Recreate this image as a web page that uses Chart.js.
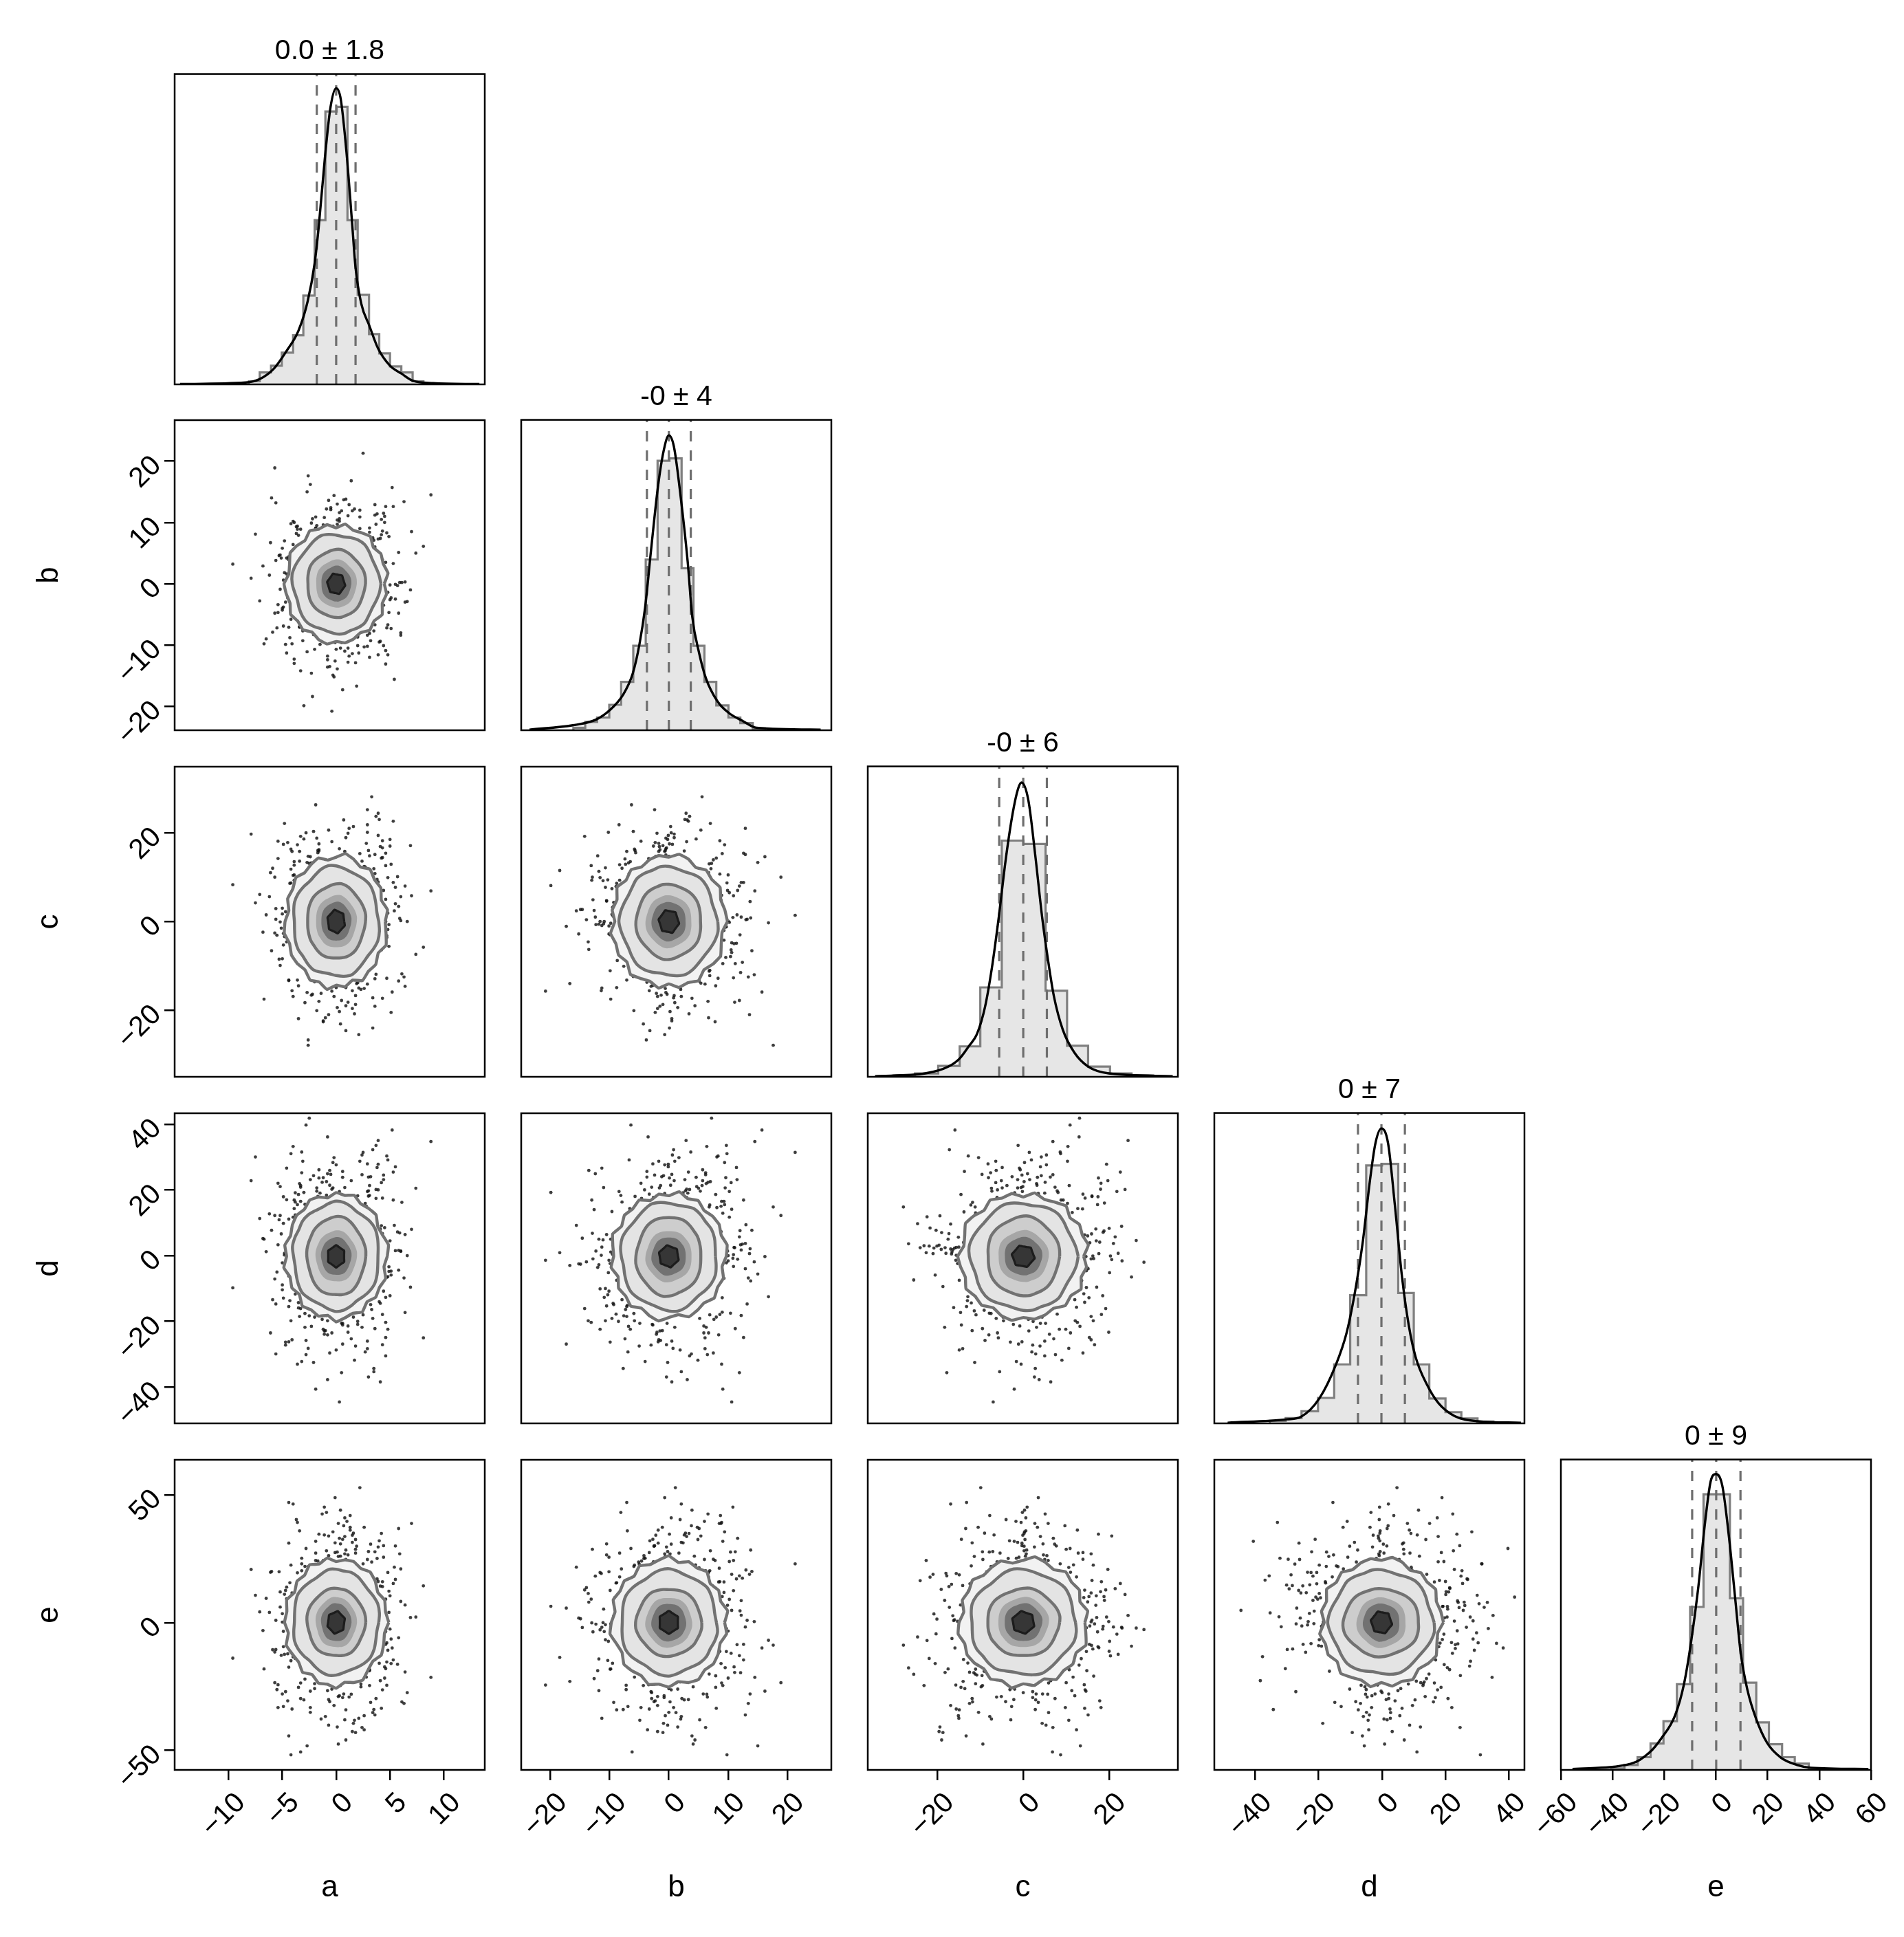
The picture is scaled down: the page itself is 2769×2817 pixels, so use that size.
<!DOCTYPE html>
<html>
<head>
<meta charset="utf-8">
<title>Corner plot</title>
<script src="https://cdn.jsdelivr.net/npm/chart.js@4.4.1/dist/chart.umd.min.js"></script>
<style>
html,body{margin:0;padding:0;background:#ffffff;overflow:hidden;}
#fig{position:relative;width:2769px;height:2817px;background:#ffffff;}
#fig canvas{position:absolute;}
</style>
</head>
<body>
<div id="fig"></div>
<script>
// ---------------- data ----------------
const varNames = ['a', 'b', 'c', 'd', 'e'];
const diagTitles = ['0.0 ± 1.8', '-0 ± 4', '-0 ± 6', '0 ± 7', '0 ± 9'];

// axis limits (column = x variable, row = y variable)
const rangeColA = [-15.0, 13.8];
const rangeColB = [-24.9, 27.4];
const rangeColC = [-36.2, 36.0];
const rangeColD = [-52.9, 44.9];
const rangeColE = [-60, 60];
const rangeRowB = [-23.9, 26.7];
const rangeRowC = [-35.0, 34.9];
const rangeRowD = [-51.0, 43.3];
const rangeRowE = [-57.6, 63.7];

// tick labels
const ticksA = [-10, -5, 0, 5, 10];
const ticksB = [-20, -10, 0, 10, 20];
const ticksC = [-20, 0, 20];
const ticksD = [-40, -20, 0, 20, 40];
const ticksE = [-60, -40, -20, 0, 20, 40, 60];
const ticksRowE = [-50, 0, 50];

// marginal histograms: bin edges and bar heights (fraction of panel height)
const binEdgesA = [-8.1,-7.1,-6.05,-5.05,-4.0,-3.05,-2.0,-1.0,0.05,1.05,2.0,3.05,4.0,5.0,6.05,7.1,8.1];
const histA = [0.01,0.0385,0.06,0.102,0.158,0.286,0.529,0.879,0.894,0.529,0.289,0.162,0.10,0.058,0.0385,0.01];
const binEdgesB = [-16.1,-14.1,-12.1,-10.05,-8.05,-6.0,-3.9,-1.9,0.1,2.15,4.15,6.0,8.0,10.05,12.05,14.15,16.2];
const histB = [0.008,0.027,0.041,0.082,0.156,0.272,0.55,0.868,0.876,0.522,0.272,0.156,0.08,0.041,0.023,0.006];
const binEdgesC = [-30.2,-25.2,-19.8,-14.8,-10.0,-5.0,0.05,5.2,10.2,15.1,20.2,25.2,30.2];
const histC = [0.004,0.011,0.035,0.098,0.288,0.761,0.75,0.277,0.10,0.033,0.011,0.004];
const binEdgesD = [-35.4,-30.4,-25.4,-20.2,-15.1,-10.05,-5.0,0.0,5.1,10.0,14.9,20.0,25.0,30.1,35.1];
const histD = [0.008,0.017,0.039,0.082,0.19,0.413,0.831,0.836,0.42,0.19,0.08,0.036,0.016,0.006];
const binEdgesE = [-40.5,-35.4,-30.3,-25.3,-20.3,-15.1,-10.0,-4.8,0.3,5.4,10.5,15.6,20.5,25.6,30.5,35.9,41.0];
const histE = [0.005,0.016,0.041,0.085,0.157,0.276,0.525,0.888,0.888,0.553,0.281,0.153,0.083,0.041,0.02,0.005];

// smooth density curves
const kdeXA = [-14.5,-8.4,-7.1,-5.8,-4.6,-3.5,-2.65,-2.0,-1.6,-1.06,-0.53,0.0,0.42,0.96,1.49,1.8,2.33,3.07,3.9,5.0,6.05,7.1,9.0,13.3];
const kdeYA = [0.001,0.006,0.017,0.05,0.108,0.173,0.267,0.39,0.515,0.725,0.892,0.954,0.92,0.747,0.515,0.376,0.26,0.19,0.115,0.06,0.035,0.012,0.004,0.001];
const kdeXB = [-23.5,-16.2,-12.3,-10.0,-7.7,-6.1,-4.95,-4.0,-3.0,-1.86,-0.89,0.0,0.85,2.0,3.17,3.94,5.1,6.26,8.2,10.1,12.45,14.8,25.6];
const kdeYB = [0.002,0.016,0.034,0.064,0.115,0.182,0.278,0.396,0.581,0.781,0.899,0.95,0.914,0.751,0.544,0.367,0.249,0.167,0.093,0.056,0.03,0.008,0.002];
const kdeXC = [-34.5,-22.8,-17.4,-14.8,-12.6,-10.8,-8.9,-7.3,-5.7,-4.1,-2.5,-1.2,-0.4,1.2,2.8,4.4,5.8,7.1,9.2,11.9,15.1,19.9,34.8];
const kdeYC = [0.002,0.011,0.033,0.059,0.1,0.137,0.225,0.351,0.514,0.698,0.846,0.928,0.948,0.89,0.713,0.514,0.373,0.262,0.152,0.078,0.033,0.011,0.002];
const kdeXD = [-48.7,-29.9,-25.6,-19.8,-14.75,-11.1,-8.2,-6.1,-3.9,-2.1,-0.2,1.9,4.05,6.2,8.4,10.6,14.2,17.8,22.8,30.1,43.8];
const kdeYD = [0.002,0.013,0.021,0.08,0.184,0.295,0.443,0.583,0.776,0.902,0.95,0.902,0.702,0.48,0.317,0.213,0.124,0.065,0.024,0.007,0.002];
const kdeXE = [-55.5,-32.8,-25.6,-21.2,-15.8,-12.3,-9.6,-6.9,-4.2,-2.0,0.0,2.45,5.1,7.35,9.6,12.2,15.4,19.8,25.2,31.4,36.8,59.0];
const kdeYE = [0.003,0.02,0.057,0.101,0.176,0.279,0.413,0.583,0.798,0.931,0.953,0.916,0.746,0.561,0.376,0.257,0.168,0.087,0.039,0.016,0.007,0.003];

// quantile markers (16%, 50%, 84%)
const quantA = [-1.8, 0.0, 1.8];
const quantB = [-3.7, 0.0, 3.7];
const quantC = [-5.6, 0.0, 5.5];
const quantD = [-7.6, -0.2, 7.2];
const quantE = [-9.2, 0.1, 9.5];

// contour half-widths per variable (core, two shade steps, inner, middle, outer level)
const contourA = [0.85, 1.4, 1.9, 2.7, 4.0, 4.7];
const contourB = [1.75, 2.9, 3.9, 5.5, 8.1, 9.6];
const contourC = [2.7, 4.4, 5.9, 8.4, 12.3, 14.8];
const contourD = [3.4, 5.8, 7.8, 12.0, 16.3, 19.0];
const contourE = [4.5, 7.4, 9.8, 13.2, 20.4, 24.8];

// contour outline irregularity (radius factor every 10 degrees)
const wobbleOuter = [1.00,0.96,1.03,0.98,1.05,0.97,1.01,0.95,1.04,0.99,1.02,0.96,1.05,1.00,0.97,1.03,0.95,1.02,0.99,1.04,0.96,1.01,1.05,0.98,0.95,1.03,1.00,0.97,1.04,0.99,1.02,0.95,1.01,1.04,0.98,1.02];
const wobbleMiddle = [1.00,1.02,1.03,0.99,0.97,0.99,1.02,1.04,1.01,0.98,0.97,1.00,1.03,1.02,0.99,0.96,0.98,1.01,1.03,1.01,0.98,0.97,0.99,1.02,1.04,1.02,0.98,0.96,0.99,1.02,1.03,1.00,0.97,0.98,1.01,1.02];
const wobbleInner = [1.00,1.01,1.02,1.01,0.99,0.98,0.99,1.01,1.02,1.02,1.00,0.98,0.97,0.99,1.01,1.03,1.02,1.00,0.98,0.98,1.00,1.02,1.03,1.01,0.99,0.97,0.98,1.00,1.02,1.02,1.01,0.99,0.98,0.99,1.00,1.01];
const wobbleCore = [1.00,0.93,0.88,0.87,0.88,0.93,1.00,0.93,0.88,0.87,0.88,0.93,1.00,0.93,0.88,0.87,0.88,0.93,1.00,0.93,0.88,0.87,0.88,0.93,1.00,0.93,0.88,0.87,0.88,0.93,1.00,0.93,0.88,0.87,0.88,0.93];

// scatter samples (outer points of the cloud are what remains visible)
const sampleA = [1.2,-3.5,0.4,4.8,-2.1,-0.7,2.9,-5.6,1.8,0.1,-1.4,3.7,-4.2,2.2,-0.3,6.1,-2.8,0.9,-1.1,3.1,
-6.8,1.5,-0.5,2.6,-3.9,4.3,0.2,-2.4,5.2,-1.7,0.7,-4.7,3.4,-0.9,1.9,-2.2,7.4,-1.2,0.5,-3.3,
2.4,-5.1,1.1,-0.2,3.9,-2.6,0.8,4.6,-1.5,-3.0,2.0,-7.9,1.4,0.3,-4.4,2.8,-1.9,5.7,-0.6,3.3,
-2.0,0.6,-3.7,4.1,-1.0,2.5,-5.9,1.7,-0.1,3.6,-2.7,0.0,6.6,-4.0,1.3,-1.6,2.1,-3.1,4.9,-0.8,
0.9,-2.3,3.0,-4.9,1.6,-0.4,5.4,-1.3,2.7,-3.6,0.4,-6.2,1.0,3.8,-2.5,0.2,-1.8,4.4,-3.4,2.3,
-1.2,4.0,-0.3,2.9,-5.3,1.1,-2.9,0.6,3.5,-1.6,8.8,-0.9,2.0,-4.1,0.8,-3.0,1.5,5.9,-2.1,0.3,
-4.6,2.6,-1.0,0.5,3.2,-2.4,6.9,-0.5,1.8,-3.8,0.1,4.2,-1.4,2.4,-5.5,0.7,-2.6,3.0,-0.7,1.2,
5.0,-3.2,0.0,2.2,-1.9,-7.1,1.9,3.7,-0.2,-2.8,4.5,-1.1,0.9,-4.3,2.8,-0.6,1.4,-3.5,6.3,-1.7,
0.5,-2.0,3.4,-5.0,1.3,-0.8,2.5,4.7,-3.3,0.2,-1.3,2.1,-6.5,1.7,-0.4,3.6,-2.2,0.8,5.5,-4.8,
2.0,-0.1,-3.9,1.0,4.1,-1.8,0.4,-2.7,3.2,-9.6,1.5,-0.9,2.7,-4.5,0.6,7.0,-1.5,3.9,-2.3,0.0,
-0.6,3.1,-5.2,1.6,-1.2,2.3,-3.4,4.8,0.3,-2.0,1.1,-0.3,5.8,-4.0,2.6,-1.6,0.7,-6.0,3.5,-0.9,
1.4,-2.9,4.3,-0.5,0.9,-3.7,2.9,-1.4,6.4,-0.2,-2.5,1.8,-4.6,3.0,0.1,-1.9,2.4,-5.7,0.6,4.0,
-3.1,0.8,2.1,-1.0,-4.9,3.8,1.2,-2.1,0.4,5.1,-0.7,-3.3,2.7,-1.7,8.1,-0.1,1.6,-2.8,3.3,-4.2,
0.2,2.8,-1.3,-6.7,1.9,4.4,-2.4,0.5,-0.8,3.4,-3.9,1.0,-1.5,2.2,-5.4,0.9,6.0,-2.6,1.3,-0.4,
-1.9,3.6,-0.2,2.0,-3.6,1.5,-7.5,4.6,-1.1,0.3,2.5,-2.3,5.3,-0.6,1.7,-4.4,0.0,3.1,-1.8,2.9,
2.1,-1.4,3.5,-0.6,-2.9,0.8,4.2,-3.8,1.3,-0.2,2.7,-4.6,0.5,1.9,-2.3,3.1,-1.1,0.3,-3.4,5.3,
-0.9,2.4,-1.8,3.9,-4.1,0.1,1.6,-2.6,4.7,-0.4,-3.0,2.0,0.7,-5.2,3.3,-1.5,1.0,-2.1,2.9,-0.7,
3.6,-2.8,0.4,-1.2,4.4,-3.5,1.8,0.0,-4.8,2.3,-0.5,3.0,-1.9,6.0,-2.4,0.9,-3.2,1.5,-0.3,4.0,
-1.6,0.6,2.6,-3.9,1.2,-0.8,3.8,-2.2,0.2,-5.7,2.8,-1.0,4.5,-3.1,1.4,-0.1,-2.7,3.4,-1.3,2.2,
0.8,-3.6,1.9,-0.4,5.0,-2.0,0.3,-1.7,3.2,-4.4,1.1,2.5,-0.6,-3.3,4.1,-1.4,0.6,-2.5,3.7,-0.2,
-4.0,1.7,-0.9,2.9,-2.3,0.5,6.4,-1.1,3.0,-3.7,0.0,1.5,-2.8,4.6,-0.7,2.0,-5.0,1.2,-1.6,3.5,
1.0,-2.4,4.3,-0.3,-1.9,3.1,-3.4,0.7,2.4,-4.9,1.6,-0.8,3.6,-2.1,0.4,5.5,-1.2,2.7,-3.0,0.1,
-2.6,3.9,-0.5,1.3,-4.3,2.1,-1.5,0.9,4.8,-3.2,0.2,-0.9,2.6,-1.8,3.3,-6.1,1.0,-0.2,2.3,-3.9,
4.1,-1.0,0.6,-2.9,1.8,3.4,-0.4,-4.5,2.2,-1.3,0.8,5.1,-3.0,1.4,-2.2,0.3,3.7,-1.7,-0.6,2.8,
-3.5,0.9,2.0,-1.4,4.6,-2.7,0.1,1.7,-3.8,3.0,-0.3,-1.9,2.5,-5.4,1.1,0.4,-2.4,3.9,-0.8,1.5,
2.6,-4.2,0.0,3.2,-1.6,1.3,-2.9,4.4,-0.7,0.6,-3.4,2.1,-1.1,5.8,-2.0,0.8,-0.4,3.1,-4.7,1.9,
-0.1,2.9,-2.3,0.5,-1.0,4.0,-3.6,1.6,2.3,-0.6,-4.0,0.9,3.5,-1.5,-2.6,1.2,4.9,-0.9,0.2,-3.1,
1.4,-1.8,3.7,-5.0,0.7,2.0,-0.2,-2.8,4.2,-1.2,1.8,-3.3,0.4,2.7,-0.8,-4.4,3.0,-1.6,0.6,2.4,
-2.1,4.5,-0.6,1.0,-3.7,0.3,2.8,-1.4,-5.6,3.6,-0.1,1.5,-2.5,0.8,4.3,-3.0,0.0,-1.2,2.2,-0.5,
3.3,-2.9,1.1,-0.7,2.5,-4.1,0.6,3.9,-1.9,0.2,-3.5,1.7,-0.4,4.7,-2.3,1.3,-1.0,2.9,-3.8,0.5];
const sampleB = [-4.1,7.9,2.3,-11.6,0.8,5.4,-2.7,13.2,-8.3,1.5,-0.6,9.7,-5.8,3.6,-14.9,0.2,6.5,-3.2,10.8,-1.4,
2.9,-7.4,0.5,4.8,-12.3,8.6,-1.9,0.0,15.7,-4.6,3.1,-9.9,1.2,6.9,-2.5,-18.4,5.0,-0.9,11.9,-6.2,
-2.0,4.2,-10.5,1.7,7.3,-3.8,0.4,12.6,-5.3,2.6,-8.7,0.9,16.8,-1.1,3.9,-6.6,9.1,-0.3,-13.5,5.6,
0.6,-4.9,8.2,-1.6,2.1,21.3,-7.9,3.4,-0.7,6.0,-11.1,1.9,-2.9,10.2,-5.1,0.1,4.5,-9.3,7.7,-3.5,
13.8,-1.3,2.8,-6.9,0.3,5.9,-15.6,3.0,-0.1,8.9,-4.3,1.4,-2.2,11.4,-7.6,4.1,-0.5,-10.1,6.3,2.0,
-5.5,0.7,9.4,-2.4,4.6,-12.8,1.0,-0.8,7.1,-3.0,14.5,-8.1,2.4,-1.7,5.2,-19.9,3.3,0.2,-6.0,10.6,
1.6,-3.6,6.7,-9.6,0.4,2.7,-1.0,12.1,-5.0,4.0,-13.9,8.0,-2.1,0.6,-7.2,3.8,17.6,-0.4,5.5,-11.8,
-0.2,6.2,-4.5,1.1,9.0,-2.8,-16.7,3.5,0.9,-6.4,11.0,-1.5,4.4,-8.8,2.2,7.5,-3.9,0.0,13.4,-5.7,
3.7,-10.7,0.8,5.8,-1.8,8.4,-4.0,1.8,-14.2,2.5,6.6,-0.7,-9.0,4.9,-2.6,12.9,-6.8,1.3,-0.1,7.0,
-8.5,2.4,10.0,-3.3,0.5,-5.9,4.3,15.0,-1.2,3.2,-11.4,0.7,6.8,-2.3,-17.3,8.5,-0.6,2.9,-7.0,5.1,
0.9,-12.0,4.7,-0.9,7.8,-3.1,1.6,-6.7,11.6,0.0,-2.0,9.3,-4.8,2.1,-10.3,5.7,-1.4,14.0,-7.7,3.0,
6.4,-2.2,-0.4,12.4,-5.2,1.9,-8.4,3.6,0.3,-15.2,7.2,-1.0,4.2,-3.7,10.4,-6.3,0.8,18.9,-2.7,-9.5,
-1.7,5.3,-11.3,2.0,0.6,-4.2,8.8,-0.2,3.9,-7.3,13.6,-2.9,1.0,-5.6,6.1,-12.6,2.8,0.4,-3.4,9.8,
4.5,-0.8,7.6,-9.8,1.4,-2.4,16.2,-5.4,3.1,0.1,-13.0,6.0,-1.6,10.9,-4.7,2.3,-8.0,0.7,5.0,-20.8,
-3.0,11.2,-6.5,0.2,4.0,-1.9,8.1,-10.9,2.6,-0.5,6.9,-14.6,3.3,-2.5,12.2,-7.1,1.2,-4.4,9.5,0.5,
-3.2,6.8,1.1,-8.9,4.0,-0.7,10.5,-5.6,2.4,-1.9,7.7,-11.3,0.6,3.8,-4.4,9.1,-2.1,0.2,-7.0,12.6,
1.7,-3.9,5.3,-0.4,-9.8,2.9,0.8,-6.2,8.3,-1.3,4.6,-2.8,13.7,-0.9,-5.1,3.4,-7.9,1.2,6.1,-0.2,
-6.7,2.2,-1.0,9.6,-3.5,0.5,4.9,-10.7,1.8,-2.4,7.2,-0.6,3.1,-8.4,0.0,5.8,-4.0,11.9,-1.6,2.7,
4.4,-7.3,0.9,-2.0,6.5,-12.4,3.6,-0.3,8.8,-4.8,1.4,-1.1,10.0,-6.0,2.5,-3.3,0.4,7.5,-9.1,1.0,
-0.8,3.0,-5.4,1.5,-2.6,8.0,-0.1,-7.6,4.2,-1.8,11.1,-3.6,0.7,5.6,-9.4,2.0,-0.5,6.9,-4.6,14.4,
2.8,-1.2,7.0,-10.2,0.3,4.7,-3.0,1.9,-6.6,9.3,-0.7,-2.2,5.0,-13.1,3.3,0.1,-4.3,8.5,-1.5,2.1,
-5.2,0.8,3.9,-1.7,10.9,-8.1,2.6,-0.2,6.3,-3.8,1.3,-11.8,4.5,-0.9,7.9,-2.5,0.5,-6.9,3.6,9.7,
0.0,-4.1,1.6,8.7,-2.9,5.5,-9.9,0.9,-1.4,3.7,-6.4,12.2,-0.6,2.3,-3.1,6.7,-8.6,1.1,4.1,-2.0,
7.4,-0.3,-3.7,2.0,-12.9,5.2,-1.0,0.6,9.0,-5.0,3.0,-2.3,1.4,-7.4,10.6,-0.8,4.8,-4.5,0.3,-1.7,
-2.7,6.0,-8.0,1.0,3.5,-0.5,13.0,-4.9,2.4,-1.2,-6.0,8.1,0.7,-3.4,5.9,-10.5,1.7,-0.1,7.1,-5.5,
3.1,-1.9,0.4,-9.3,6.6,-2.6,1.8,11.5,-4.2,0.2,-7.1,3.9,-0.4,5.1,-1.3,-11.0,2.9,8.4,-3.0,0.8,
-1.1,4.3,-6.8,0.5,2.7,-3.2,9.4,-0.7,-5.3,1.5,6.4,-8.8,0.0,3.2,-2.1,12.9,-4.7,1.9,-0.6,-7.7,
5.7,-0.9,2.2,-4.0,0.6,-10.1,7.3,-1.4,3.4,-2.8,0.9,8.9,-6.3,1.2,-13.6,4.4,-0.2,2.6,-3.9,6.2,
-8.3,1.4,-0.3,5.4,-2.4,10.2,-5.8,0.1,3.8,-1.5,-9.6,2.1,7.6,-3.5,0.4,-1.0,4.9,-6.5,12.0,-0.8,
2.5,-5.9,8.6,-1.6,0.3,-3.3,4.6,-11.6,1.7,6.8,-0.5,-2.9,3.0,-7.2,9.9,-1.1,0.6,5.3,-4.1,-0.3];
const sampleC = [6.2,-14.5,1.8,9.9,-3.7,20.6,-8.2,0.5,12.8,-19.4,4.1,-1.2,16.3,-6.9,2.7,-11.8,7.5,-24.6,0.9,10.7,
-2.4,14.1,-9.6,3.3,-0.7,18.2,-5.1,8.4,-15.9,1.1,22.9,-3.0,5.9,-12.2,0.2,11.5,-7.4,2.0,-17.8,6.8,
13.6,-1.5,4.7,-10.4,8.9,-26.7,0.6,15.4,-4.4,2.9,-8.8,19.7,-0.3,7.1,-13.3,3.8,-2.1,10.1,-6.3,28.1,
-11.1,5.2,-0.9,16.9,-7.8,1.4,12.0,-20.8,3.5,-3.4,9.2,-14.9,0.0,6.5,-1.8,17.5,-9.1,4.3,-5.6,13.0,
0.8,-16.6,7.9,-2.7,21.4,-6.0,2.4,-12.9,10.3,-0.5,-23.1,5.6,14.7,-4.9,1.7,-9.4,18.8,-1.0,3.1,-15.3,
9.5,-3.9,0.3,25.2,-8.5,4.9,-18.3,2.2,11.9,-5.3,6.9,-0.2,-13.8,15.8,-2.9,8.1,-10.6,0.7,20.3,-7.0,
-4.6,12.4,-21.7,1.6,7.3,-1.3,17.1,-11.5,3.9,-6.7,0.4,14.3,-16.2,5.4,-3.1,9.7,-27.9,2.6,11.2,-0.6,
18.5,-7.6,2.9,-9.9,0.1,6.1,-14.0,23.7,-2.3,10.9,-5.0,1.3,-19.0,8.6,-0.8,13.9,-4.2,4.6,-12.5,16.0,
-1.9,7.7,-17.2,3.0,12.6,-8.0,0.9,-3.6,19.2,-10.9,5.1,-25.5,1.5,9.0,-6.1,15.1,-0.4,-13.0,4.0,22.1,
2.3,-11.9,10.5,-4.8,6.4,-20.1,0.5,13.3,-2.6,8.3,-15.6,3.6,-7.2,17.8,-1.1,5.8,-9.7,24.4,-3.3,0.0,
-8.7,14.8,-0.1,4.4,-22.6,11.4,-5.5,1.9,7.0,-13.6,19.9,-2.0,3.4,-16.9,9.4,-0.7,12.2,-6.6,2.8,-10.2,
5.7,-1.6,16.6,-9.2,0.6,-4.0,21.8,-12.1,8.0,-2.8,13.1,-18.7,1.0,6.3,-7.9,26.3,-0.9,10.0,-14.4,3.2,
-6.4,9.8,-15.0,2.1,17.4,-3.5,4.8,-11.3,0.3,12.9,-21.0,7.4,-1.4,15.5,-5.8,2.5,-9.0,20.0,-2.5,8.7,
11.7,-4.3,1.2,-17.5,6.6,-0.3,14.6,-8.3,3.7,-24.0,9.3,-1.7,5.3,-12.7,18.1,-6.5,0.2,10.6,-3.8,-15.7,
1.4,-9.5,13.5,-2.2,7.8,-19.6,4.2,0.0,-6.8,16.4,-11.0,2.7,22.6,-4.1,8.8,-13.2,0.6,11.1,-1.3,5.0,
5.0,-11.2,1.4,7.9,-3.1,15.8,-6.4,0.3,10.6,-16.9,2.8,-0.9,12.4,-5.2,1.9,-9.5,6.1,-20.3,0.6,8.8,
-1.8,11.7,-7.3,2.6,-0.4,14.3,-4.0,6.7,-12.8,0.8,18.6,-2.3,4.5,-9.9,0.0,9.2,-5.9,1.5,-14.1,5.3,
10.8,-1.1,3.7,-8.1,7.0,-21.9,0.4,12.1,-3.4,2.2,-7.0,16.0,-0.2,5.6,-10.4,3.0,-1.6,8.0,-4.9,23.0,
-8.7,4.1,-0.6,13.5,-6.2,1.0,9.5,-16.4,2.7,-2.6,7.4,-11.9,0.1,5.1,-1.3,13.9,-7.2,3.3,-4.3,10.3,
0.5,-13.2,6.2,-2.0,17.0,-4.7,1.8,-10.1,8.2,-0.3,-18.2,4.4,11.7,-3.8,1.2,-7.4,15.0,-0.7,2.4,-12.0,
7.6,-3.0,0.2,20.1,-6.7,3.9,-14.6,1.6,9.4,-4.2,5.4,-0.1,-10.8,12.6,-2.2,6.4,-8.4,0.5,16.2,-5.5,
-3.6,9.8,-17.3,1.1,5.8,-1.0,13.6,-9.1,3.1,-5.3,0.3,11.3,-12.9,4.2,-2.4,7.7,-22.4,2.0,8.9,-0.4,
14.7,-6.0,2.3,-7.8,0.0,4.8,-11.1,18.9,-1.8,8.6,-3.9,1.0,-15.1,6.8,-0.6,11.0,-3.3,3.6,-9.8,12.7,
-1.5,6.1,-13.7,2.4,10.0,-6.3,0.7,-2.8,15.3,-8.6,4.0,-20.5,1.2,7.1,-4.8,12.0,-0.3,-10.3,3.2,17.6,
1.8,-9.4,8.3,-3.8,5.0,-16.0,0.4,10.6,-2.0,6.6,-12.4,2.8,-5.7,14.2,-0.8,4.6,-7.7,19.4,-2.6,0.0,
-6.9,11.8,-0.1,3.5,-18.0,9.0,-4.3,1.5,5.5,-10.8,15.8,-1.6,2.7,-13.4,7.4,-0.5,9.7,-5.2,2.2,-8.1,
4.5,-1.2,13.2,-7.3,0.5,-3.2,17.3,-9.6,6.3,-2.2,10.4,-14.9,0.8,5.0,-6.2,21.0,-0.7,7.9,-11.4,2.5,
-5.1,7.8,-11.9,1.7,13.8,-2.8,3.8,-8.9,0.2,10.2,-16.7,5.9,-1.1,12.3,-4.6,2.0,-7.1,15.9,-2.0,6.9,
9.3,-3.4,0.9,-13.9,5.2,-0.2,11.6,-6.6,2.9,-19.1,7.4,-1.3,4.2,-10.1,14.4,-5.1,0.1,8.4,-3.0,-12.5,
1.1,-7.5,10.7,-1.7,6.2,-15.6,3.3,0.0,-5.4,13.0,-8.7,2.1,18.0,-3.2,7.0,-10.5,0.5,8.8,-1.0,4.0];
const sampleD = [-9.3,18.6,3.1,-22.4,7.8,-1.2,27.9,-14.7,0.6,12.1,-5.4,33.5,-19.8,4.4,-2.6,16.2,-30.1,9.7,-0.8,21.3,
5.2,-11.6,24.7,-3.8,1.4,-17.9,13.6,-7.1,38.2,-0.3,8.9,-26.3,2.7,15.4,-10.2,0.9,20.5,-4.9,-35.6,11.0,
-1.7,6.6,-15.3,29.8,-8.4,3.6,17.4,-24.9,0.2,10.4,-3.1,22.8,-12.5,1.8,-6.2,14.3,-40.6,7.2,25.9,-2.0,
13.0,-20.6,0.5,8.1,-5.9,31.4,-13.4,2.3,18.9,-9.0,4.8,-28.7,0.0,11.7,-1.5,23.6,-16.6,6.0,-3.4,36.1,
-7.7,1.1,19.7,-12.9,5.7,-23.5,9.2,-0.5,15.9,-33.0,3.0,12.7,-4.6,26.8,-18.3,0.8,7.5,-10.8,21.9,-2.4,
2.1,-14.0,28.3,-6.5,10.9,-1.0,-21.8,16.8,4.0,-8.7,34.7,-3.5,13.3,-25.6,1.6,19.2,-11.2,6.9,-0.1,-44.5,
17.0,-4.2,8.4,-19.1,0.4,23.1,-9.6,3.3,-27.5,12.4,-1.9,6.3,-15.8,30.6,-5.0,1.9,14.8,-36.9,9.9,-2.8,
-12.2,25.2,-0.6,4.7,-17.2,11.3,-3.0,20.1,-8.1,39.7,2.5,-22.9,7.0,-1.3,15.0,-29.6,0.3,10.1,-6.8,18.0,
3.8,-10.0,32.2,-2.2,8.6,-24.1,13.9,-0.4,-16.1,5.5,22.3,-7.4,1.2,-31.8,17.7,-4.0,9.4,-13.7,27.0,0.7,
-20.0,6.8,-1.6,14.5,-38.4,2.9,11.8,-5.6,24.0,-9.8,0.1,18.4,-12.0,4.1,-26.9,8.0,-2.9,35.0,-15.1,1.5,
9.1,-3.6,21.0,-18.7,0.9,13.1,-7.9,29.1,-1.1,5.9,-23.3,16.5,-4.4,2.0,-11.9,26.1,-0.2,7.7,-34.3,12.9,
-5.2,15.6,-27.1,3.5,10.6,-0.9,19.5,-14.4,6.4,-2.5,41.8,-9.4,1.0,23.9,-17.5,4.6,-6.0,12.2,-21.1,0.4,
28.7,-8.8,2.6,-13.1,17.9,-1.8,7.3,-32.5,11.5,-4.7,0.6,20.8,-10.5,3.9,-25.0,14.0,-0.7,8.3,-16.4,31.0,
-2.1,10.7,-19.4,5.0,-7.2,24.5,-0.3,13.8,-37.7,2.4,16.9,-11.0,6.2,-3.3,22.0,-14.9,1.3,-28.2,9.6,-1.4,
7.9,-22.2,0.8,18.2,-6.3,3.2,30.0,-12.7,11.1,-0.9,-18.0,5.3,25.4,-8.3,1.7,-15.5,14.1,-3.9,20.6,-26.0,
-7.4,14.8,2.5,-17.8,6.2,-1.0,22.2,-11.7,0.5,9.6,-4.3,26.6,-15.7,3.5,-2.1,12.9,-23.9,7.7,-0.6,16.9,
4.1,-9.2,19.6,-3.0,1.1,-14.2,10.8,-5.6,30.3,-0.2,7.1,-20.9,2.1,12.2,-8.1,0.7,16.3,-3.9,-28.3,8.7,
-1.4,5.2,-12.2,23.7,-6.7,2.9,13.8,-19.8,0.2,8.3,-2.5,18.1,-9.9,1.4,-4.9,11.4,-32.2,5.7,20.6,-1.6,
10.3,-16.4,0.4,6.4,-4.7,24.9,-10.6,1.8,15.0,-7.1,3.8,-22.8,0.0,9.3,-1.2,18.7,-13.2,4.8,-2.7,28.7,
-6.1,0.9,15.6,-10.2,4.5,-18.7,7.3,-0.4,12.6,-26.2,2.4,10.1,-3.7,21.3,-14.5,0.6,6.0,-8.6,17.4,-1.9,
1.7,-11.1,22.5,-5.2,8.7,-0.8,-17.3,13.3,3.2,-6.9,27.6,-2.8,10.6,-20.3,1.3,15.2,-8.9,5.5,-0.1,-35.3,
13.5,-3.3,6.7,-15.2,0.3,18.3,-7.6,2.6,-21.8,9.8,-1.5,5.0,-12.5,24.3,-4.0,1.5,11.8,-29.3,7.9,-2.2,
-9.7,20.0,-0.5,3.7,-13.7,9.0,-2.4,16.0,-6.4,31.5,2.0,-18.2,5.6,-1.0,11.9,-23.5,0.2,8.0,-5.4,14.3,
3.0,-7.9,25.6,-1.7,6.8,-19.1,11.0,-0.3,-12.8,4.4,17.7,-5.9,1.0,-25.3,14.1,-3.2,7.5,-10.9,21.4,0.6,
-15.9,5.4,-1.3,11.5,-30.5,2.3,9.4,-4.4,19.1,-7.8,0.1,14.6,-9.5,3.3,-21.4,6.4,-2.3,27.8,-12.0,1.2,
7.2,-2.9,16.7,-14.9,0.7,10.4,-6.3,23.1,-0.9,4.7,-18.5,13.1,-3.5,1.6,-9.4,20.7,-0.2,6.1,-27.2,10.2,
-4.1,12.4,-21.5,2.8,8.4,-0.7,15.5,-11.4,5.1,-2.0,33.2,-7.5,0.8,19.0,-13.9,3.7,-4.8,9.7,-16.8,0.3,
22.8,-7.0,2.1,-10.4,14.2,-1.4,5.8,-25.8,9.1,-3.7,0.5,16.5,-8.3,3.1,-19.8,11.1,-0.6,6.6,-13.0,24.6,
-1.7,8.5,-15.4,4.0,-5.7,19.5,-0.2,11.0,-29.9,1.9,13.4,-8.7,4.9,-2.6,17.5,-11.8,1.0,-22.4,7.6,-1.1,
6.3,-17.6,0.6,14.4,-5.0,2.5,23.8,-10.1,8.8,-0.7,-14.3,4.2,20.2,-6.6,1.4,-12.3,11.2,-3.1,16.3,-20.6];
const sampleE = [11.4,-25.3,3.8,19.6,-7.2,33.9,-15.1,0.9,27.2,-40.8,6.1,-2.3,22.5,-11.9,1.5,-31.0,14.7,-5.6,45.2,-18.4,
-3.1,9.8,-20.7,37.3,-0.6,16.0,-28.9,4.5,-9.9,24.1,-1.8,12.6,-35.2,7.7,29.9,-13.6,2.2,-22.1,18.3,-50.6,
5.4,-12.8,26.5,-4.0,0.3,-17.7,41.0,-8.5,14.0,-30.2,2.9,20.8,-6.9,10.5,-44.3,1.2,31.8,-16.3,8.0,-2.7,
-23.9,15.2,-1.0,6.8,-36.7,23.0,-10.6,3.4,48.9,-14.5,0.0,18.7,-27.4,9.1,-4.7,34.6,-19.0,2.6,12.3,-8.1,
28.4,-6.2,1.9,-32.8,13.3,-0.9,21.7,-15.8,7.1,39.2,-24.6,4.0,-11.3,17.1,-2.0,-47.5,10.2,25.6,-7.8,0.5,
-16.9,3.1,35.5,-9.2,19.9,-3.6,8.7,-29.3,1.7,14.9,-21.4,43.1,-5.1,11.6,-38.0,6.4,0.2,26.9,-13.0,4.8,
9.3,-41.9,17.8,-1.4,30.7,-10.1,2.0,-19.6,22.9,-4.3,13.7,-33.5,0.8,7.4,-26.2,37.9,-8.8,16.6,-0.3,-14.2,
-2.5,20.3,-12.1,52.8,-6.6,4.2,-23.0,11.0,0.6,29.0,-17.3,3.6,-45.9,15.6,-3.8,24.8,-9.6,8.4,-31.6,1.0,
18.0,-0.8,6.0,-27.9,36.2,-11.6,2.4,-15.4,12.8,-5.3,42.5,-20.2,9.5,-1.6,23.8,-36.1,4.9,-7.5,16.9,-12.4,
-9.0,31.2,-3.3,14.3,-22.7,1.4,26.0,-48.2,7.9,-13.9,19.2,-0.2,10.9,-30.6,5.7,38.8,-17.0,2.8,-6.0,21.4,
3.0,-18.8,12.0,-39.4,24.3,-2.9,8.2,-10.8,33.0,-25.8,0.4,15.9,-5.9,46.4,-14.8,6.7,-1.1,20.0,-34.0,11.8,
-28.0,7.0,-0.5,17.4,-12.7,40.3,-4.5,22.2,-19.3,1.8,10.0,-43.0,13.9,-8.3,27.6,-2.1,5.1,-23.5,32.6,-15.9,
0.7,13.1,-37.4,4.4,-9.4,25.1,-16.0,2.3,44.0,-6.4,18.9,-29.7,8.9,-1.3,14.4,-21.9,35.0,-11.2,3.7,-51.7,
22.6,-4.9,9.7,-18.1,1.1,30.1,-26.8,6.3,-13.3,16.4,-0.1,39.6,-8.0,12.5,-33.2,2.7,21.0,-10.3,5.8,-24.4,
-7.0,27.7,-14.1,0.9,19.5,-42.6,10.7,-3.5,34.3,-20.9,4.6,-1.9,15.3,-30.9,8.6,47.0,-12.0,2.1,-17.6,24.7,
9.1,-20.1,3.0,15.5,-5.7,26.9,-12.0,0.7,21.6,-32.4,4.8,-1.8,17.9,-9.4,1.2,-24.6,11.7,-4.4,35.9,-14.6,
-2.5,7.8,-16.4,29.6,-0.5,12.7,-22.9,3.6,-7.9,19.1,-1.4,10.0,-27.9,6.1,23.7,-10.8,1.7,-17.5,14.5,-40.1,
4.3,-10.2,21.0,-3.2,0.2,-14.0,32.5,-6.7,11.1,-24.0,2.3,16.5,-5.5,8.3,-35.1,1.0,25.2,-12.9,6.3,-2.1,
-19.0,12.1,-0.8,5.4,-29.1,18.2,-8.4,2.7,38.8,-11.5,0.0,14.8,-21.7,7.2,-3.7,27.4,-15.1,2.1,9.8,-6.4,
22.5,-4.9,1.5,-26.0,10.5,-0.7,17.2,-12.5,5.6,31.1,-19.5,3.2,-9.0,13.6,-1.6,-37.7,8.1,20.3,-6.2,0.4,
-13.4,2.5,28.1,-7.3,15.8,-2.9,6.9,-23.2,1.3,11.8,-17.0,34.2,-4.0,9.2,-30.1,5.1,0.2,21.3,-10.3,3.8,
7.4,-33.2,14.1,-1.1,24.3,-8.0,1.6,-15.5,18.2,-3.4,10.9,-26.6,0.6,5.9,-20.8,30.0,-7.0,13.2,-0.2,-11.3,
-2.0,16.1,-9.6,41.9,-5.2,3.3,-18.2,8.7,0.5,23.0,-13.7,2.9,-36.4,12.4,-3.0,19.7,-7.6,6.7,-25.1,0.8,
14.3,-0.6,4.8,-22.1,28.7,-9.2,1.9,-12.2,10.2,-4.2,33.7,-16.0,7.5,-1.3,18.9,-28.6,3.9,-5.9,13.4,-9.8,
-7.1,24.7,-2.6,11.3,-18.0,1.1,20.6,-38.2,6.3,-11.0,15.2,-0.2,8.6,-24.3,4.5,30.8,-13.5,2.2,-4.8,17.0,
2.4,-14.9,9.5,-31.2,19.3,-2.3,6.5,-8.6,26.2,-20.5,0.3,12.6,-4.7,36.8,-11.7,5.3,-0.9,15.9,-27.0,9.4,
-22.2,5.6,-0.4,13.8,-10.1,32.0,-3.6,17.6,-15.3,1.4,7.9,-34.1,11.0,-6.6,21.9,-1.7,4.0,-18.6,25.9,-12.6,
0.6,10.4,-29.7,3.5,-7.5,19.9,-12.7,1.8,34.9,-5.1,15.0,-23.6,7.1,-1.0,11.4,-17.4,27.8,-8.9,2.9,-41.0,
17.9,-3.9,7.7,-14.4,0.9,23.9,-21.3,5.0,-10.5,13.0,-0.1,31.4,-6.3,9.9,-26.3,2.1,16.7,-8.2,4.6,-19.4,
-5.6,22.0,-11.2,0.7,15.5,-33.8,8.5,-2.8,27.2,-16.6,3.7,-1.5,12.1,-24.5,6.8,37.3,-9.5,1.7,-14.0,19.6];

// ---------------- grouping ----------------
const colRanges = [rangeColA, rangeColB, rangeColC, rangeColD, rangeColE];
const rowRanges = [null, rangeRowB, rangeRowC, rangeRowD, rangeRowE];
const colTicks = [ticksA, ticksB, ticksC, ticksD, ticksE];
const rowTicks = [null, ticksB, ticksC, ticksD, ticksRowE];
const EDGES = [binEdgesA, binEdgesB, binEdgesC, binEdgesD, binEdgesE];
const HISTS = [histA, histB, histC, histD, histE];
const KDEX = [kdeXA, kdeXB, kdeXC, kdeXD, kdeXE];
const KDEY = [kdeYA, kdeYB, kdeYC, kdeYD, kdeYE];
const QUANTS = [quantA, quantB, quantC, quantD, quantE];
const CONTOURS = [contourA, contourB, contourC, contourD, contourE];
const SAMPLES = [sampleA, sampleB, sampleC, sampleD, sampleE];
const WOBBLES = [wobbleCore, wobbleInner, wobbleInner, wobbleInner, wobbleMiddle, wobbleOuter];

// ---------------- styles & layout ----------------
const FONT = "'Liberation Sans', Arial, Helvetica, sans-serif";
const FILL_SHADES = ['#363636', '#727272', '#a6a6a6', '#cdcdcd', '#e4e4e4', '#f2f2f2'];
const LINE_LEVELS = [0, 3, 4, 5];
const PANEL_LEFT = [254, 758, 1262, 1766, 2270];
const PANEL_TOP = [108, 611, 1115, 1619, 2123];
const PANEL_SIZE = 451;
const FIG_H = 2817;
const MARGIN = 12;
const TITLE_SIZE = 41, TICK_SIZE = 41, LABEL_SIZE = 44;
const TITLE_PAD_BOTTOM = 8.4;
const TITLE_BLOCK = TITLE_SIZE * 1.2 + TITLE_PAD_BOTTOM;

Chart.defaults.font.family = FONT;
Chart.defaults.color = '#000000';

function fmtTick(v) { return v < 0 ? '\u2212' + Math.abs(v) : String(v); }

const panelBox = {
  id: 'panelBox',
  afterDraw(chart) {
    const {ctx, chartArea: a} = chart;
    ctx.save();
    ctx.strokeStyle = '#000000';
    ctx.lineWidth = 2.5;
    ctx.strokeRect(a.left, a.top, a.right - a.left, a.bottom - a.top);
    ctx.restore();
  }
};

function histPoints(edges, h) {
  const pts = [{x: edges[0], y: 0}];
  for (let k = 0; k < h.length; k++) pts.push({x: edges[k], y: h[k]});
  pts.push({x: edges[h.length], y: h[h.length - 1]});
  pts.push({x: edges[h.length], y: 0});
  return pts;
}

function contourPoints(j, i, level, shift) {
  const rx = CONTOURS[j][level], ry = CONTOURS[i][level];
  const wob = WOBBLES[level];
  const cx = QUANTS[j][1], cy = QUANTS[i][1];
  const pts = [];
  for (let k = 0; k <= 36; k++) {
    const w = wob[(k + shift) % 36];
    const t = k * Math.PI / 18;
    pts.push({x: cx + rx * w * Math.cos(t), y: cy + ry * w * Math.sin(t)});
  }
  return pts;
}

function axisOptions(isX, show, range, ticks, label, fixedSize) {
  const o = {
    type: 'linear', min: range[0], max: range[1], display: show,
    position: isX ? 'bottom' : 'left',
    grid: {display: true, drawOnChartArea: false, drawTicks: true, tickLength: 15, tickWidth: 2.5, lineWidth: 2.5, color: '#000000'},
    border: {display: false},
    ticks: {
      font: {family: FONT, size: TICK_SIZE}, color: '#000000',
      padding: isX ? 9 : 11, minRotation: 45, maxRotation: 45, autoSkip: false,
      labelOffset: isX ? 18 : 0,
      callback: (v) => fmtTick(v)
    },
    title: {
      display: show, text: label, color: '#000000',
      font: {family: FONT, size: LABEL_SIZE},
      padding: isX ? {top: 0, bottom: 44.6} : {top: 45, bottom: 0}
    }
  };
  if (show) {
    o.afterBuildTicks = (s) => { s.ticks = ticks.map(v => ({value: v})); };
    o.afterFit = (s) => {
      if (isX) s.height = fixedSize; else s.width = fixedSize;
      s.paddingTop = 0; s.paddingBottom = 0; s.paddingLeft = 0; s.paddingRight = 0;
    };
  }
  return o;
}

function buildPanel(i, j) {
  const hasY = (j === 0 && i > 0);
  const hasX = (i === 4);
  const diag = (i === j);
  const padL = hasY ? 0 : (hasX ? 60 : MARGIN);
  const padR = hasX ? 60 : MARGIN;
  const padT = MARGIN;
  const padB = hasX ? 0 : MARGIN;
  const titleH = diag ? TITLE_BLOCK : 0;
  const L = PANEL_LEFT[j], T = PANEL_TOP[i];
  const left = hasY ? 0 : L - padL;
  const top = T - padT - titleH;
  const width = (L - left) + PANEL_SIZE + padR;
  const xAxisH = FIG_H - (T + PANEL_SIZE);
  const height = padT + titleH + PANEL_SIZE + (hasX ? xAxisH : padB);

  const canvas = document.createElement('canvas');
  canvas.width = Math.round(width);
  canvas.height = Math.round(height);
  canvas.style.left = left + 'px';
  canvas.style.top = top + 'px';
  canvas.style.width = Math.round(width) + 'px';
  canvas.style.height = Math.round(height) + 'px';
  document.getElementById('fig').appendChild(canvas);

  const datasets = [];
  let yRange;
  if (diag) {
    yRange = [0, 1];
    datasets.push({
      type: 'line', data: KDEX[j].map((x, k) => ({x, y: KDEY[j][k]})),
      borderColor: '#000000', borderWidth: 3.4, pointRadius: 0, fill: false,
      cubicInterpolationMode: 'monotone', order: 0
    });
    QUANTS[j].forEach((q) => {
      datasets.push({
        type: 'line', data: [{x: q, y: 0}, {x: q, y: 1}],
        borderColor: '#6e6e6e', borderWidth: 3.2, borderDash: [15, 13],
        pointRadius: 0, fill: false, order: 1
      });
    });
    datasets.push({
      type: 'line', data: histPoints(EDGES[j], HISTS[j]), stepped: 'before',
      borderColor: '#7f7f7f', borderWidth: 3.2, backgroundColor: '#e6e6e6',
      fill: 'origin', pointRadius: 0, order: 2
    });
  } else {
    yRange = rowRanges[i];
    const shift = (i * 7 + j * 11) % 36;
    LINE_LEVELS.forEach((lv, n) => {
      datasets.push({
        type: 'line', data: contourPoints(j, i, lv, shift),
        borderColor: lv === 0 ? '#1c1c1c' : '#727272', borderWidth: lv === 0 ? 3.2 : 4.4,
        pointRadius: 0, fill: false, tension: lv === 5 ? 0.1 : 0.35, order: n
      });
    });
    for (let lv = 0; lv < 6; lv++) {
      datasets.push({
        type: 'line', data: contourPoints(j, i, lv, shift),
        borderColor: 'rgba(0,0,0,0)', borderWidth: 0, backgroundColor: FILL_SHADES[lv],
        pointRadius: 0, fill: 'shape', tension: lv === 5 ? 0.1 : 0.35, order: 10 + lv
      });
    }
    datasets.push({
      type: 'scatter', data: SAMPLES[j].map((x, k) => ({x, y: SAMPLES[i][k]})),
      pointRadius: 2.4, pointBorderWidth: 0, backgroundColor: 'rgba(20,20,20,0.82)',
      showLine: false, order: 30
    });
  }

  new Chart(canvas, {
    type: 'scatter',
    data: {datasets},
    options: {
      responsive: false, animation: false, devicePixelRatio: 1, events: [],
      layout: {autoPadding: false, padding: {left: padL, right: padR, top: padT, bottom: padB}},
      plugins: {
        legend: {display: false}, tooltip: {enabled: false},
        title: {
          display: diag, text: diagTitles[j], color: '#000000',
          font: {family: FONT, size: TITLE_SIZE, weight: 'normal'},
          padding: {top: 0, bottom: TITLE_PAD_BOTTOM}
        }
      },
      scales: {
        x: axisOptions(true, hasX, colRanges[j], colTicks[j], varNames[j], xAxisH),
        y: axisOptions(false, hasY, yRange, rowTicks[i] || [], varNames[i], PANEL_LEFT[0])
      }
    },
    plugins: [panelBox]
  });
}

for (let i = 0; i < 5; i++) {
  for (let j = 0; j <= i; j++) buildPanel(i, j);
}
</script>
</body>
</html>
